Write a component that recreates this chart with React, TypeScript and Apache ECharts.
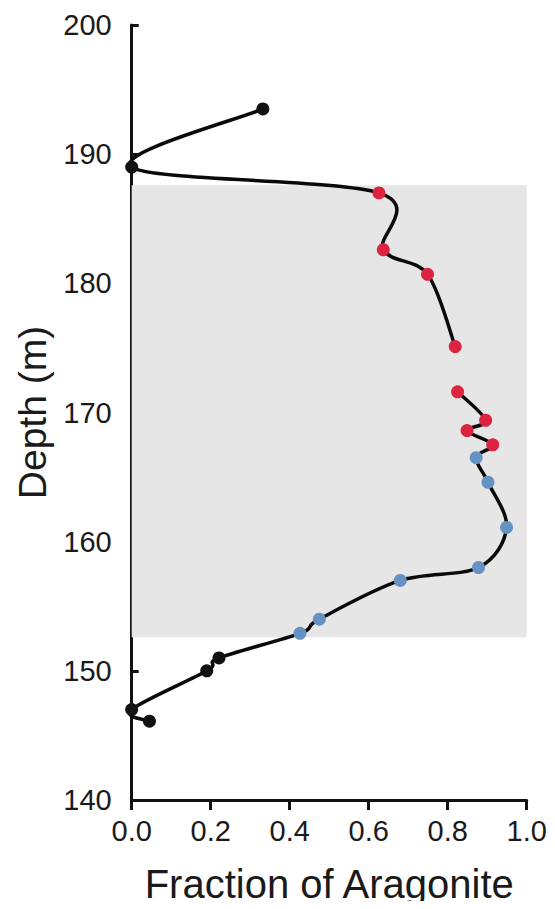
import React, { useEffect, useRef } from "react";
import * as echarts from "echarts";

// Depth profile, listed from the top of the section downwards
const depth = [
  193.5, 189.0, 187.0, 182.6, 180.7, 175.1, 171.6, 169.4, 168.6, 167.5,
  166.5, 164.6, 161.1, 158.0, 157.0, 154.0, 152.9, 151.0, 150.0, 147.0, 146.1,
];
const aragonite = [
  0.332, 0.0, 0.626, 0.637, 0.749, 0.819, 0.825, 0.896, 0.849, 0.914,
  0.872, 0.902, 0.949, 0.878, 0.68, 0.475, 0.426, 0.221, 0.19, 0.0, 0.045,
];
// Sample group for each point: outside the interval, upper part, lower part
const group = [
  "outside", "outside", "upper", "upper", "upper", "upper", "upper", "upper", "upper", "upper",
  "lower", "lower", "lower", "lower", "lower", "lower", "lower", "outside", "outside", "outside", "outside",
];
// The curve is interrupted after this sample (no data between 175.1 and 171.6 m)
const breakAfter = [5];

// Shaded interval (depth, m)
const intervalTop = 187.6;
const intervalBottom = 152.6;

const xTicks = [0, 0.2, 0.4, 0.6, 0.8, 1.0];
const yTicks = [140, 150, 160, 170, 180, 190, 200];

const groupColors: Record<string, string> = {
  outside: "#111111",
  upper: "#DC2440",
  lower: "#6592C3",
};

const FONT = "'Liberation Sans', Arial, Helvetica, sans-serif";

// Catmull-Rom spline through screen points, written as cubic Bezier segments
function splinePath(pts: number[][]): string {
  if (pts.length === 0) return "";
  let d = `M${pts[0][0]},${pts[0][1]}`;
  for (let i = 0; i < pts.length - 1; i++) {
    const p0 = pts[Math.max(i - 1, 0)];
    const p1 = pts[i];
    const p2 = pts[i + 1];
    const p3 = pts[Math.min(i + 2, pts.length - 1)];
    const c1x = p1[0] + (p2[0] - p0[0]) / 6;
    const c1y = p1[1] + (p2[1] - p0[1]) / 6;
    const c2x = p2[0] - (p3[0] - p1[0]) / 6;
    const c2y = p2[1] - (p3[1] - p1[1]) / 6;
    d += ` C${c1x},${c1y} ${c2x},${c2y} ${p2[0]},${p2[1]}`;
  }
  return d;
}

export default function App() {
  const ref = useRef<HTMLDivElement>(null);

  useEffect(() => {
    if (!ref.current) return;
    const chart = echarts.init(ref.current, undefined, { renderer: "svg" });

    const profile = depth.map((d, i) => [aragonite[i], d]);
    const pointsOf = (g: string) =>
      depth.map((d, i) => (group[i] === g ? [aragonite[i], d] : null)).filter((p) => p !== null);

    const axisLine = { show: true, lineStyle: { color: "#111", width: 3 } };

    chart.setOption({
      animation: false,
      backgroundColor: "#ffffff",
      grid: { left: 131.7, right: 28.3, top: 25, bottom: 109, containLabel: false },
      xAxis: {
        type: "value",
        min: xTicks[0],
        max: xTicks[xTicks.length - 1],
        interval: 0.2,
        name: "Fraction of Aragonite",
        nameLocation: "middle",
        nameGap: 64,
        nameTextStyle: { fontFamily: FONT, fontSize: 40, color: "#1a1a1a" },
        axisLine,
        axisTick: { show: true, inside: false, length: 10, lineStyle: { color: "#111", width: 3 } },
        axisLabel: {
          fontFamily: FONT,
          fontSize: 29,
          color: "#1a1a1a",
          margin: 16,
          formatter: (v: number) => v.toFixed(1),
        },
        splitLine: { show: false },
      },
      yAxis: {
        type: "value",
        min: yTicks[0],
        max: yTicks[yTicks.length - 1],
        interval: 10,
        name: "Depth (m)",
        nameLocation: "middle",
        nameGap: 78,
        nameRotate: 90,
        nameTextStyle: { fontFamily: FONT, fontSize: 39, color: "#1a1a1a" },
        axisLine,
        axisTick: { show: true, inside: true, length: 7, lineStyle: { color: "#111", width: 3 } },
        axisLabel: { fontFamily: FONT, fontSize: 29, color: "#1a1a1a", margin: 20 },
        splitLine: { show: false },
      },
      series: [
        {
          // shaded interval
          type: "line",
          data: [],
          markArea: {
            silent: true,
            itemStyle: { color: "#E6E6E6" },
            data: [[{ yAxis: intervalBottom, xAxis: 0 }, { yAxis: intervalTop, xAxis: 1 }]],
          },
          z: 1,
        },
        {
          // smooth profile curve, split into runs at the data gap
          type: "custom",
          data: profile,
          clip: false,
          z: 3,
          renderItem: (params: any, api: any) => {
            if (params.dataIndex !== 0) return null;
            const runs: number[][][] = [[]];
            profile.forEach((p, i) => {
              runs[runs.length - 1].push(api.coord(p));
              if (breakAfter.includes(i)) runs.push([]);
            });
            return {
              type: "group",
              children: runs.map((run) => ({
                type: "path",
                shape: { pathData: splinePath(run) },
                style: { fill: "none", stroke: "#0a0a0a", lineWidth: 3.5 },
              })),
            };
          },
        },
        ...["outside", "upper", "lower"].map((g) => ({
          type: "scatter",
          data: pointsOf(g),
          symbol: "circle",
          symbolSize: 13,
          itemStyle: { color: groupColors[g], opacity: 1 },
          z: 5,
        })),
      ],
    });

    return () => chart.dispose();
  }, []);

  return <div ref={ref} style={{ width: 555, height: 909, margin: -8 }} />;
}
